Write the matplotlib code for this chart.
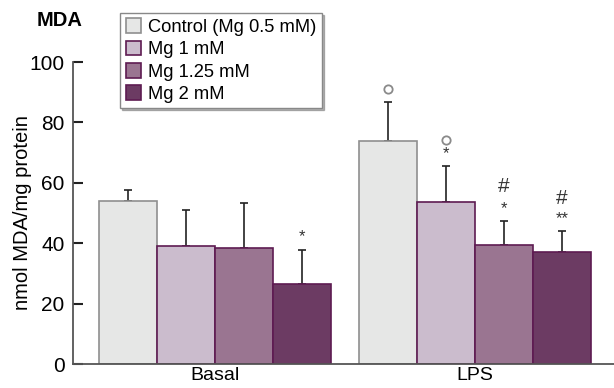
import numpy as np
import matplotlib.pyplot as plt

plt.rcParams["font.family"] = ["Liberation Sans", "DejaVu Sans"]

groups = ["Basal", "LPS"]
series = ["Control (Mg 0.5 mM)", "Mg 1 mM", "Mg 1.25 mM", "Mg 2 mM"]
means = {
    "Basal": [53.9, 39.2, 38.3, 26.5],
    "LPS": [73.8, 53.5, 39.4, 37.0],
}
errors = {
    "Basal": [3.6, 11.7, 14.9, 11.1],
    "LPS": [13.1, 12.2, 8.1, 7.1],
}
# significance marks per bar
stars = {
    "Basal": ["", "", "", "*"],
    "LPS": ["", "*", "*", "**"],
}
star_y = {"Basal": [0, 0, 0, 42.1], "LPS": [0, 69.8, 51.5, 48.0]}
hashes = {"LPS": ["", "", "#", "#"]}
hash_y = {"LPS": [0, 0, 58.7, 54.9]}
circles_y = {"LPS": [91.0, 74.3, None, None]}

face = ["#e6e7e6", "#cbbccd", "#9a7591", "#6c3b63"]
edge = ["#8f8f8f", "#5e1b52", "#5e1b52", "#5e1b52"]

fig = plt.figure(figsize=(6.14, 3.88), dpi=100)
ax = fig.add_axes([73 / 614, 24 / 388, 1 - 73 / 614, 302 / 388])

w = 58 / 260
offsets = (np.arange(4) - 1.5) * w
for gi, g in enumerate(groups):
    for i in range(4):
        x = gi + offsets[i]
        ax.bar(x, means[g][i], width=w, color=face[i], edgecolor=edge[i],
               linewidth=1.2, zorder=2)
        ax.errorbar(x, means[g][i], yerr=[[0], [errors[g][i]]], fmt="none",
                    ecolor="#222222", elinewidth=1.2, capsize=3, capthick=1.2,
                    zorder=1)
        if stars[g][i]:
            ax.text(x, star_y[g][i], stars[g][i], ha="center", va="center",
                    fontsize=12, color="#333333")
    if g in hashes:
        for i in range(4):
            if hashes[g][i]:
                ax.text(gi + offsets[i], hash_y[g][i], hashes[g][i], ha="center",
                        va="center", fontsize=15, color="#333333")
    if g in circles_y:
        for i in range(4):
            if circles_y[g][i] is not None:
                ax.plot(gi + offsets[i], circles_y[g][i], "o", ms=6, mfc="white",
                        mec="#8a8a8a", mew=1.3, clip_on=False)

ax.set_xlim((73 - 215) / 260, (614 - 215) / 260)
ax.set_ylim(0, 100)
ax.set_yticks([0, 20, 40, 60, 80, 100])
ax.set_xticks([0, 1], groups)
ax.tick_params(axis="x", length=0, labelsize=14, pad=2.5)
ax.tick_params(axis="y", direction="in", length=7, width=1.5, labelsize=15,
               pad=6, color="#222222")
for s in ["top", "right"]:
    ax.spines[s].set_visible(False)
ax.spines["left"].set_color("#555555")
ax.spines["bottom"].set_color("#555555")
ax.spines["left"].set_linewidth(1.3)
ax.spines["bottom"].set_linewidth(1.3)
ax.set_ylabel("nmol MDA/mg protein", fontsize=14.5, labelpad=-2)

fig.text(60 / 614, 1 - 20 / 388, "MDA", ha="center", va="center",
         fontsize=14.5, fontweight="bold")

handles = [plt.Rectangle((0, 0), 1, 1, facecolor=face[i], edgecolor=edge[i],
                         linewidth=1.2) for i in range(4)]
leg = fig.legend(handles, series, loc="upper left",
                 bbox_to_anchor=(120 / 614, 1 - 13 / 388), borderaxespad=0,
                 fontsize=13.2, handlelength=0.85, handleheight=0.85,
                 handletextpad=0.4, labelspacing=0.25, borderpad=0.3,
                 fancybox=False, shadow={"ox": 1.5, "oy": -1.5, "alpha": 0.4},
                 framealpha=1, edgecolor="#888888")

fig.savefig("out.png", dpi=100)
